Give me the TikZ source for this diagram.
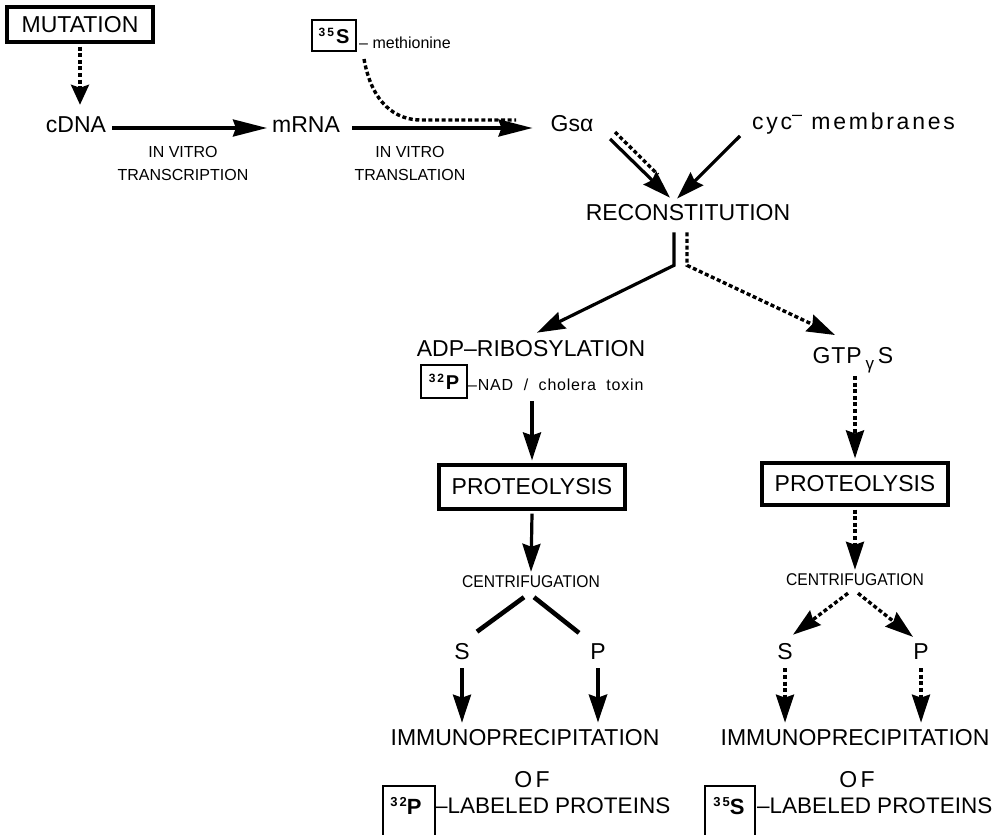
\documentclass[tikz,border=0pt]{standalone}
\usepackage{fontspec}
\setmainfont{Liberation Sans}
\usetikzlibrary{arrows.meta,calc}
\begin{document}
\begin{tikzpicture}[x=1pt,y=-1pt,
  every node/.style={inner sep=0pt},
  big/.style={font=\fontsize{23}{26}\selectfont},
  small/.style={font=\fontsize{16}{18}\selectfont},
  cent/.style={font=\fontsize{17}{19}\selectfont\addfontfeature{FakeStretch=0.92}},
  thickbox/.style={draw,line width=3.2pt},
  thinbox/.style={draw,line width=2pt},
  hd/.style={-{Stealth[length=28pt,width=18pt,inset=3pt]}},
  rowhd/.style={-{Stealth[length=34pt,width=17pt,inset=3pt]}},
  sol/.style={line width=3.2pt},
  dsh/.style={line width=3.4pt,dash pattern=on 4pt off 2.6pt},
]
\useasboundingbox (0,0) rectangle (1007,835);

% top row
\node[thickbox,big,minimum width=146pt,minimum height=35pt] (mut) at (80,24.5) {MUTATION};
\node[big] (cdna) at (76,125) {cDNA};
\node[big] (mrna) at (306,125) {mRNA};
\node[big] (gsa) at (572,124) {Gsα};
\node[big,anchor=west] (cyc) at (752,124) {\addfontfeature{LetterSpace=12}cyc\raisebox{9pt}{\fontsize{18}{18}\selectfont –} membranes};

\node[small] (iv1) at (183,152) {IN VITRO};
\node[small] (tc1) at (183,175) {TRANSCRIPTION};
\node[small] (iv2) at (410,152) {IN VITRO};
\node[small] (tl2) at (410,175) {TRANSLATION};

\node[thinbox,minimum width=44pt,minimum height=31pt] (s35) at (334,35.5) {\bfseries{\fontsize{12}{12}\selectfont\raisebox{7pt}{3\,5}\,}{\fontsize{20}{20}\selectfont S}};
\node[small,anchor=base west] (meth) at (359,48) {– methionine};
\coordinate (dj) at (516,120);

\draw[dsh,-{Stealth[length=20pt,width=18pt,inset=3pt]}] ($(mut.south)+(0,3)$) -- ($(mut.south |- cdna.north)+(0,-12)$);
\draw[sol,rowhd] ($(cdna.east)+(6,3)$) -- ($(mrna.west)+(-5,3)$);
\draw[sol,rowhd] ($(mrna.east)+(12,3)$) -- ($(gsa.west)+(-18,4)$);
\draw[dsh] ($(s35.south east)+(7,7)$) .. controls +(8,45) and +(-25,0) .. ($(dj)+(-95,0)$) -- (dj);

% reconstitution
\node[big] (rec) at (688,213) {RECONSTITUTION};
\draw[sol,hd] ($(gsa.center)+(38,15)$) -- ($(rec.north)+(-18,-7)$);
\draw[dsh] ($(gsa.center)+(43,8)$) -- ($(rec.north)+(-30,-30)$);
\draw[sol,hd] ($(cyc.west)+(-12,12)$) -- ($(rec.north)+(-11,-6)$);

% left branch
\node[big] (adp) at (531,349) {ADP–RIBOSYLATION};
\node[thinbox,minimum width=46pt,minimum height=33pt] (nadb) at (444,381.5) {\bfseries{\fontsize{12}{12}\selectfont\raisebox{7pt}{3\,2}}\,{\fontsize{20}{20}\selectfont P}};
\node[small,anchor=west] (nad) at (468,385) {\addfontfeature{LetterSpace=5}–NAD \ /\ \ cholera\ \ toxin};
\node[thickbox,big,minimum width=186pt,minimum height=44pt] (prl) at (532,487) {PROTEOLYSIS};
\node[cent] (cenl) at (531,582) {CENTRIFUGATION};
\node[big] (sl) at (462,652) {S};
\node[big] (pl) at (598,652) {P};
\node[big] (imml) at (525,738) {IMMUNOPRECIPITATION};
\node[big] (ofl) at (532,780) {\addfontfeature{LetterSpace=15}OF};
\node[thinbox,minimum width=52pt,minimum height=62pt,anchor=north west] (b32) at (382,785) {};
\node (t32) at (406,806) {\bfseries{\fontsize{13}{13}\selectfont\raisebox{8pt}{3\,2}}{\fontsize{22}{22}\selectfont P}};
\node[font=\fontsize{22.5}{26}\selectfont,anchor=west] (lab32) at (435,806) {–LABELED PROTEINS};

\coordinate (a1) at (nadb.south -| prl.north);
\draw[sol,hd] ($(rec.south)+(-14,11)$) -- ++(0,33) -- ($(adp.north)+(6,-8)$);
\draw[sol,hd] ($(a1)+(0,2)$) -- ($(prl.north)+(0,-3)$);
\draw[sol,hd] ($(prl.south)+(0,3)$) -- ($(cenl.north)+(0,-4)$);
\draw[line width=4.6pt] ($(cenl.south)+(-7,9)$) -- ($(sl.north)+(15,-12)$);
\draw[line width=4.6pt] ($(cenl.south)+(3,9)$) -- ($(pl.north)+(-19,-11)$);
\draw[sol,hd] ($(sl.south)+(0,8)$) -- ($(sl.south |- imml.north)+(0,-7)$);
\draw[line width=4.4pt,hd] ($(pl.south)+(0,8)$) -- ($(pl.south |- imml.north)+(0,-7)$);

% right branch
\node[big] (gtp) at (853,360) {\addfontfeature{LetterSpace=4}GTP\,\raisebox{-6pt}{\fontsize{17}{17}\selectfont γ}\,S};
\node[thickbox,big,minimum width=186pt,minimum height=42pt] (prr) at (855,484) {PROTEOLYSIS};
\node[cent] (cenr) at (855,580) {CENTRIFUGATION};
\node[big] (sr) at (785,652) {S};
\node[big] (pr) at (921,652) {P};
\node[big] (immr) at (855,738) {IMMUNOPRECIPITATION};
\node[big] (ofr) at (857,780) {\addfontfeature{LetterSpace=15}OF};
\node[thinbox,minimum width=50pt,minimum height=62pt,anchor=north west] (b35) at (704,785) {};
\node (t35) at (729,806) {\bfseries{\fontsize{13}{13}\selectfont\raisebox{8pt}{3\,5}}{\fontsize{22}{22}\selectfont S}};
\node[font=\fontsize{22.5}{26}\selectfont,anchor=west] (lab35) at (757,806) {–LABELED PROTEINS};

\draw[dsh,hd] ($(rec.south)+(-1,11)$) -- ++(0,33) -- ($(gtp.north)+(-18,-12)$);
\draw[dsh,hd] ($(gtp.south)+(2,3)$) -- ($(prr.north)+(0,-3)$);
\draw[dsh,hd] ($(prr.south)+(0,3)$) -- ($(cenr.north)+(0,-4)$);
\draw[dsh,hd] ($(cenr.south)+(-7,7)$) -- ($(sr.north)+(8,-9)$);
\draw[dsh,hd] ($(cenr.south)+(3,7)$) -- ($(pr.north)+(-8,-7)$);
\draw[dsh,hd] ($(sr.south)+(0,8)$) -- ($(sr.south |- immr.north)+(0,-7)$);
\draw[dsh,hd] ($(pr.south)+(0,8)$) -- ($(pr.south |- immr.north)+(0,-7)$);
\end{tikzpicture}
\end{document}
